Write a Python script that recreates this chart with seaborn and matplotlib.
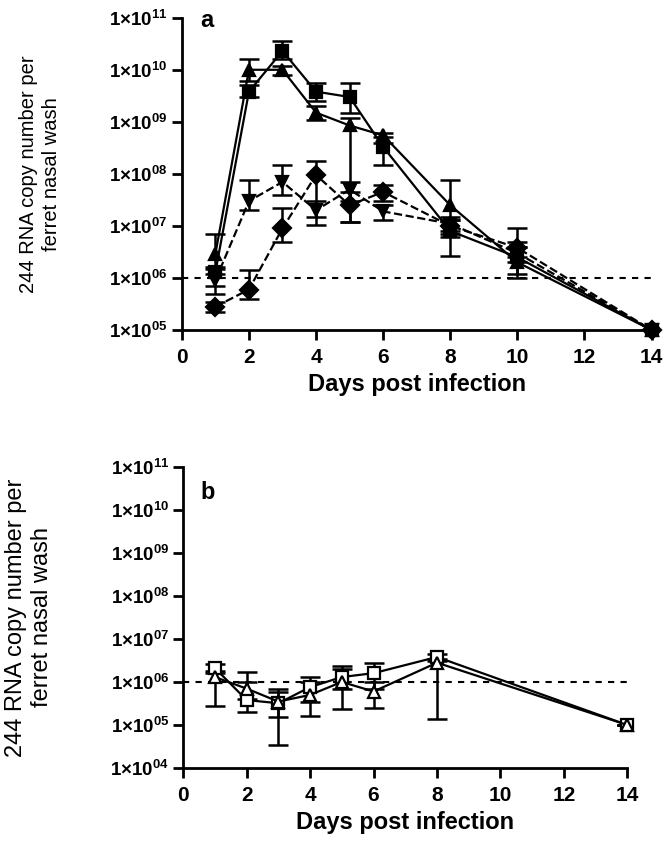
import numpy as np
import pandas as pd
import matplotlib
matplotlib.use("Agg")
import matplotlib.pyplot as plt
import seaborn as sns

# ---------------- data (panel a) ----------------
days_a = [1, 2, 3, 4, 5, 6, 8, 10, 14]
sq_a = [1.3e6, 3.8e9, 2.3e10, 3.8e9, 3.0e9, 3.3e8, 8e6, 2.5e6, 1e5]
sq_a_hi = [1.6e6, 5e9, 3.5e10, 5.5e9, 5.5e9, 5e8, 1.3e7, 4e6, 1e5]
sq_a_lo = [7e5, 3e9, 1.6e10, 2.5e9, 1.5e9, 1.5e8, 2.7e6, 1.2e6, 1e5]

tri_a = [2.9e6, 1e10, 1e10, 1.5e9, 8.5e8, 5.5e8, 2.5e7, 2e6, 1e5]
tri_a_hi = [7e6, 1.6e10, 1.2e10, 2e9, 1.2e9, 6e8, 7.5e7, 9e6, 1e5]
tri_a_lo = [1.5e6, 6e9, 8e9, 1.1e9, 1.2e7, 4e8, 8e6, 1e6, 1e5]

dtri_a = [9e5, 3e7, 7e7, 2e7, 5e7, 1.9e7, 1.1e7, 3e6, 1e5]
dtri_a_hi = [1.2e6, 7.5e7, 1.5e8, 3e7, 7e7, 2.5e7, 1.5e7, 4e6, 1e5]
dtri_a_lo = [5e5, 2e7, 4e7, 1.05e7, 3e7, 1.3e7, 7e6, 2e6, 1e5]

dia_a = [2.8e5, 6e5, 9e6, 9.5e7, 2.5e7, 4.5e7, 1e7, 3.8e6, 1e5]
dia_a_hi = [3.5e5, 1.4e6, 2.2e7, 1.8e8, 4.5e7, 6e7, 1.3e7, 5e6, 1e5]
dia_a_lo = [2.2e5, 4e5, 5e6, 1.5e7, 1.2e7, 3e7, 6e6, 2.5e6, 1e5]

# ---------------- data (panel b) ----------------
days_b = [1, 2, 3, 4, 5, 6, 8, 14]
sq_b = [2.1e6, 3.8e5, 3.2e5, 7.6e5, 1.3e6, 1.6e6, 3.8e6, 1e5]
sq_b_hi = [2.6e6, 1e6, 6e5, 1.3e6, 2.4e6, 2.8e6, 4.5e6, 1e5]
sq_b_lo = [1.6e6, 2e5, 3.4e4, 3.5e5, 7e5, 7e5, 3e6, 1e5]

tri_b = [1.3e6, 7e5, 3.5e5, 5e5, 1e6, 6e5, 2.8e6, 1e5]
tri_b_hi = [1.8e6, 1.7e6, 7e5, 1e6, 2e6, 1e6, 3.5e6, 1e5]
tri_b_lo = [2.8e5, 4e5, 1.5e5, 1.6e5, 2.3e5, 2.5e5, 1.4e5, 1e5]

threshold = 1e6
xticks = [0, 2, 4, 6, 8, 10, 12, 14]
ylabel_text = "244 RNA copy number per\nferret nasal wash"
xlabel_text = "Days post infection"

# ---------------- style ----------------
sns.set_theme(style="ticks")
plt.rcParams["font.family"] = ["Liberation Sans", "DejaVu Sans"]
plt.rcParams["mathtext.fontset"] = "custom"
plt.rcParams["mathtext.rm"] = "Liberation Sans"
plt.rcParams["mathtext.bf"] = "Liberation Sans:bold"
plt.rcParams["mathtext.it"] = "Liberation Sans:italic"
for k in ("text.color", "axes.labelcolor", "xtick.color", "ytick.color"):
    plt.rcParams[k] = "black"

fig = plt.figure(figsize=(6.71, 8.44), dpi=100)
ax_a = fig.add_axes([0.271, 0.609, 0.700, 0.370])
ax_b = fig.add_axes([0.273, 0.090, 0.662, 0.357])


def draw(ax, days, vals, hi, lo, marker, ls, filled):
    df = pd.DataFrame({"day": days, "val": vals})
    mfc = "black" if filled else "white"
    sns.lineplot(data=df, x="day", y="val", ax=ax, color="black",
                 linestyle=ls, linewidth=1.6, marker=marker, markersize=9,
                 markerfacecolor=mfc, markeredgecolor="black",
                 markeredgewidth=1.6, zorder=3, clip_on=False)
    v = np.array(vals)
    yerr = [v - np.array(lo), np.array(hi) - v]
    ax.errorbar(days, vals, yerr=yerr, fmt="none", ecolor="black",
                elinewidth=1.8, capsize=7, capthick=1.8, zorder=2)


draw(ax_a, days_a, sq_a, sq_a_hi, sq_a_lo, "s", "-", True)
draw(ax_a, days_a, tri_a, tri_a_hi, tri_a_lo, "^", "-", True)
draw(ax_a, days_a, dtri_a, dtri_a_hi, dtri_a_lo, "v", "--", True)
draw(ax_a, days_a, dia_a, dia_a_hi, dia_a_lo, "D", "--", True)

draw(ax_b, days_b, sq_b, sq_b_hi, sq_b_lo, "s", "-", False)
draw(ax_b, days_b, tri_b, tri_b_hi, tri_b_lo, "^", "-", False)


def fmt_axis(ax, ymin_exp, ymax_exp, ylab_size, ylab_x, label, label_y):
    ax.set_yscale("log")
    ax.set_ylim(10.0 ** ymin_exp, 10.0 ** ymax_exp)
    ax.set_xlim(0, 14)
    ax.axhline(threshold, color="black", linestyle=(0, (3, 3)),
               linewidth=1.5, zorder=1)
    exps = list(range(ymin_exp, ymax_exp + 1))
    ax.set_yticks([10.0 ** e for e in exps])
    ax.set_yticklabels([r"$\mathbf{1{\times}10^{%02d}}$" % e for e in exps])
    ax.yaxis.set_minor_locator(matplotlib.ticker.NullLocator())
    ax.set_xticks(xticks)
    ax.set_xticklabels([str(t) for t in xticks])
    for t in ax.get_xticklabels():
        t.set_fontweight("bold")
        t.set_fontsize(15)
    for t in ax.get_yticklabels():
        t.set_fontsize(13.5)
    ax.tick_params(axis="x", direction="out", length=7, width=2,
                   color="black", pad=6)
    ax.tick_params(axis="y", direction="out", length=7, width=2,
                   color="black", pad=3)
    sns.despine(ax=ax)
    for s in ("left", "bottom"):
        ax.spines[s].set_linewidth(2)
        ax.spines[s].set_color("black")
    ax.set_xlabel(xlabel_text, fontsize=17, fontweight="bold", labelpad=4)
    ax.set_ylabel(ylabel_text, fontsize=ylab_size, va="center",
                  ha="center", linespacing=1.25)
    ax.yaxis.set_label_coords(ylab_x, 0.5)
    ax.text(0.04, label_y, label, transform=ax.transAxes, fontsize=17,
            fontweight="bold", va="center", ha="left")
    ax.set_facecolor("white")


fmt_axis(ax_a, 5, 11, 14.5, (40 - 182) / 470.0, "a", 0.99)
fmt_axis(ax_b, 4, 11, 17, (29 - 183) / 444.0, "b", 0.915)

fig.savefig("out.png", dpi=100, facecolor="white")
